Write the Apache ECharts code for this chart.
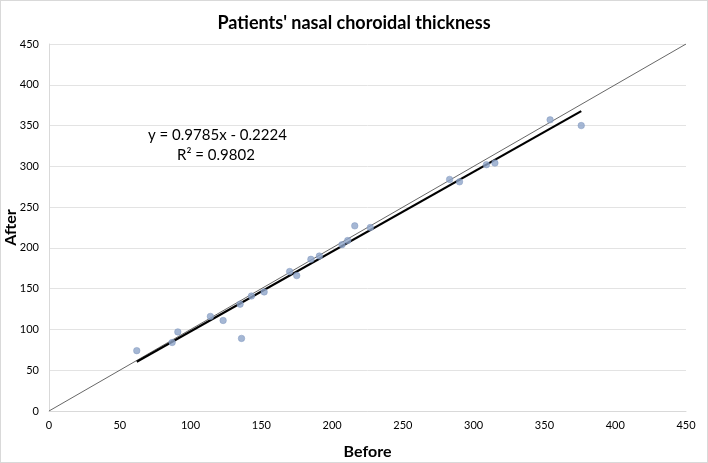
<!DOCTYPE html>
<html>
<head>
<meta charset="utf-8">
<script src="https://cdn.jsdelivr.net/npm/echarts@6/dist/echarts.min.js"></script>
<style>
html,body{margin:0;padding:0;background:#fff;}
#c{width:706px;height:461px;border:1px solid #d9d9d9;}
</style>
</head>
<body>
<div id="c"></div>
<script>
const beforeVals = [62, 87, 91, 114, 123, 135, 136, 143, 152, 170, 175, 185, 191, 207, 211, 216, 227, 283, 290, 309, 315, 354, 376];
const afterVals  = [74, 84, 97, 116, 111, 131, 89, 141, 146, 171, 166, 186, 190, 204, 209, 227, 225, 284, 281, 302, 304, 357, 350];
const slope = 0.9785;
const intercept = -0.2224;
const r2 = 0.9802;
const axisTicks = [0, 50, 100, 150, 200, 250, 300, 350, 400, 450];
const titleText = "Patients' nasal choroidal thickness";
const xName = 'Before';
const yName = 'After';

const pts = beforeVals.map((b, i) => [b, afterVals[i]]);
const xMin = Math.min(...beforeVals), xMax = Math.max(...beforeVals);
const trend = [[xMin, slope * xMin + intercept], [xMax, slope * xMax + intercept]];
const identity = [[axisTicks[0], axisTicks[0]], [axisTicks[axisTicks.length - 1], axisTicks[axisTicks.length - 1]]];

const F = 'Lato, "Liberation Sans", sans-serif';
const chart = echarts.init(document.getElementById('c'));
chart.setOption({
  animation: false,
  textStyle: { fontFamily: F },
  title: {
    text: titleText, left: 'center', top: 8,
    textStyle: { fontFamily: F, fontWeight: 'bold', fontSize: 18, color: '#000' }
  },
  grid: { left: 48, right: 21, top: 43, bottom: 51, containLabel: false, outerBoundsMode: 'none' },
  xAxis: {
    type: 'value', min: 0, max: 450, interval: 50,
    name: xName, nameLocation: 'middle', nameGap: 33, nameMoveOverlap: false,
    nameTextStyle: { fontFamily: F, fontWeight: 'bold', fontSize: 16, color: '#000' },
    axisLine: { show: true, lineStyle: { color: '#d9d9d9' } },
    axisTick: { show: false },
    splitLine: { show: false },
    axisLabel: { fontFamily: F, fontSize: 11, color: '#000', margin: 9 }
  },
  yAxis: {
    type: 'value', min: 0, max: 450, interval: 50,
    name: yName, nameLocation: 'middle', nameGap: 30, nameRotate: 90, nameMoveOverlap: false,
    nameTextStyle: { fontFamily: F, fontWeight: 'bold', fontSize: 16, color: '#000' },
    axisLine: { show: true, lineStyle: { color: '#d9d9d9' } },
    axisTick: { show: false },
    splitLine: { show: true, lineStyle: { color: '#e3e3e3' } },
    axisLabel: { fontFamily: F, fontSize: 11, color: '#000', margin: 10 }
  },
  series: [
    {
      type: 'line', data: identity, symbol: 'none', z: 2,
      lineStyle: { color: '#404040', width: 0.8 }
    },
    {
      type: 'line', data: trend, symbol: 'none', z: 3,
      lineStyle: { color: '#000', width: 2.2 }
    },
    {
      type: 'scatter', data: pts, symbol: 'circle', symbolSize: 6.5, z: 4,
      itemStyle: { color: '#8fa5c9', borderColor: '#7f96bd', borderWidth: 0.6 }
    }
  ],
  graphic: [
    {
      type: 'text', left: 147, top: 127,
      style: { text: 'y = ' + slope + 'x - ' + Math.abs(intercept), font: '15px ' + F, fill: '#000' }
    },
    {
      type: 'text', left: 176, top: 147,
      style: { text: 'R² = ' + r2, font: '15px ' + F, fill: '#000' }
    }
  ]
});
</script>
</body>
</html>
